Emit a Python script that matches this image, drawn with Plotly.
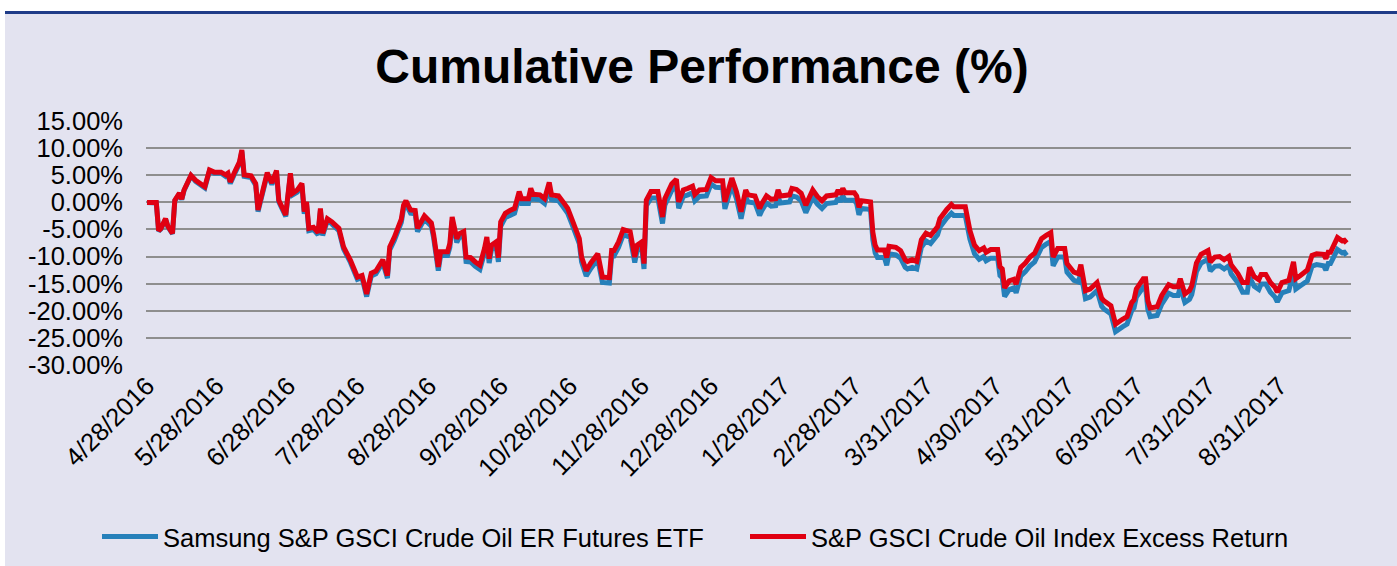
import plotly.graph_objects as go

# ---------------- data ----------------
dates = [
    "2016-04-28", "2016-05-02", "2016-05-03", "2016-05-04", "2016-05-06", "2016-05-07", "2016-05-09",
    "2016-05-10", "2016-05-12", "2016-05-13", "2016-05-14", "2016-05-17", "2016-05-19", "2016-05-23",
    "2016-05-25", "2016-05-27", "2016-05-30", "2016-06-01", "2016-06-02", "2016-06-03", "2016-06-05",
    "2016-06-07", "2016-06-08", "2016-06-09", "2016-06-12", "2016-06-14", "2016-06-15", "2016-06-17",
    "2016-06-19", "2016-06-21", "2016-06-23", "2016-06-24", "2016-06-26", "2016-06-27", "2016-06-29",
    "2016-06-30", "2016-07-02", "2016-07-04", "2016-07-05", "2016-07-06", "2016-07-07", "2016-07-09",
    "2016-07-11", "2016-07-12", "2016-07-13", "2016-07-15", "2016-07-17", "2016-07-19", "2016-07-20",
    "2016-07-22", "2016-07-25", "2016-07-28", "2016-07-30", "2016-08-01", "2016-08-03", "2016-08-05",
    "2016-08-08", "2016-08-10", "2016-08-11", "2016-08-13", "2016-08-16", "2016-08-17", "2016-08-18",
    "2016-08-20", "2016-08-22", "2016-08-23", "2016-08-26", "2016-08-29", "2016-08-30", "2016-09-01",
    "2016-09-02", "2016-09-05", "2016-09-06", "2016-09-07", "2016-09-09", "2016-09-10", "2016-09-12",
    "2016-09-13", "2016-09-15", "2016-09-17", "2016-09-19", "2016-09-21", "2016-09-22", "2016-09-23",
    "2016-09-24", "2016-09-26", "2016-09-27", "2016-09-28", "2016-09-30", "2016-10-02", "2016-10-04",
    "2016-10-06", "2016-10-07", "2016-10-10", "2016-10-11", "2016-10-12", "2016-10-15", "2016-10-17",
    "2016-10-19", "2016-10-20", "2016-10-23", "2016-10-25", "2016-10-27", "2016-10-29", "2016-11-01",
    "2016-11-02", "2016-11-04", "2016-11-06", "2016-11-09", "2016-11-11", "2016-11-14", "2016-11-15",
    "2016-11-16", "2016-11-18", "2016-11-20", "2016-11-23", "2016-11-25", "2016-11-26", "2016-11-28",
    "2016-11-29", "2016-11-30", "2016-12-02", "2016-12-05", "2016-12-07", "2016-12-08", "2016-12-11",
    "2016-12-13", "2016-12-14", "2016-12-16", "2016-12-18", "2016-12-20", "2016-12-21", "2016-12-23",
    "2016-12-26", "2016-12-28", "2016-12-30", "2017-01-02", "2017-01-03", "2017-01-06", "2017-01-08",
    "2017-01-10", "2017-01-12", "2017-01-13", "2017-01-16", "2017-01-18", "2017-01-19", "2017-01-21",
    "2017-01-23", "2017-01-25", "2017-01-26", "2017-01-27", "2017-01-31", "2017-02-01", "2017-02-03",
    "2017-02-05", "2017-02-07", "2017-02-10", "2017-02-12", "2017-02-14", "2017-02-16", "2017-02-20",
    "2017-02-21", "2017-02-22", "2017-02-23", "2017-02-24", "2017-02-28", "2017-03-01", "2017-03-02",
    "2017-03-03", "2017-03-07", "2017-03-08", "2017-03-09", "2017-03-10", "2017-03-13", "2017-03-14",
    "2017-03-15", "2017-03-18", "2017-03-20", "2017-03-22", "2017-03-23", "2017-03-25", "2017-03-27",
    "2017-03-29", "2017-03-31", "2017-04-02", "2017-04-05", "2017-04-06", "2017-04-09", "2017-04-11",
    "2017-04-12", "2017-04-17", "2017-04-19", "2017-04-20", "2017-04-21", "2017-04-23", "2017-04-25",
    "2017-04-26", "2017-04-28", "2017-05-01", "2017-05-02", "2017-05-03", "2017-05-04", "2017-05-06",
    "2017-05-08", "2017-05-09", "2017-05-11", "2017-05-13", "2017-05-15", "2017-05-17", "2017-05-19",
    "2017-05-20", "2017-05-22", "2017-05-24", "2017-05-25", "2017-05-27", "2017-05-30", "2017-05-31",
    "2017-06-03", "2017-06-05", "2017-06-06", "2017-06-08", "2017-06-10", "2017-06-13", "2017-06-15",
    "2017-06-16", "2017-06-19", "2017-06-21", "2017-06-24", "2017-06-26", "2017-06-28", "2017-06-29",
    "2017-06-30", "2017-07-03", "2017-07-04", "2017-07-05", "2017-07-06", "2017-07-09", "2017-07-11",
    "2017-07-14", "2017-07-16", "2017-07-18", "2017-07-19", "2017-07-21", "2017-07-23", "2017-07-24",
    "2017-07-26", "2017-07-28", "2017-07-31", "2017-08-01", "2017-08-03", "2017-08-05", "2017-08-07",
    "2017-08-09", "2017-08-10", "2017-08-13", "2017-08-15", "2017-08-17", "2017-08-18", "2017-08-20",
    "2017-08-22", "2017-08-23", "2017-08-25", "2017-08-27", "2017-08-29", "2017-08-30", "2017-09-01",
    "2017-09-04", "2017-09-06", "2017-09-07", "2017-09-09", "2017-09-12", "2017-09-14", "2017-09-16",
    "2017-09-19", "2017-09-20", "2017-09-21", "2017-09-22", "2017-09-25", "2017-09-27", "2017-09-28",
    "2017-09-29",
]

# S&P GSCI Crude Oil Index Excess Return (%)
index_er = [
    0.0, 0.0, -5.2, -4.8, -3.0, -4.4, -5.7,
    0.4, 1.7, 0.6, 2.3, 5.0, 4.1, 2.9,
    6.0, 5.6, 5.6, 5.1, 5.4, 3.8, 5.7,
    7.5, 9.7, 5.1, 4.9, 3.5, -1.4, 2.3,
    5.5, 3.6, 5.9, 0.4, -1.4, -2.3, 5.4,
    1.7, 2.3, 3.5, -1.7, 0.1, -4.8, -4.6,
    -5.6, -1.1, -5.7, -3.0, -3.6, -4.6, -4.8,
    -8.2, -10.7, -13.8, -13.5, -16.9, -13.1, -12.7,
    -10.6, -13.5, -8.2, -6.4, -3.1, -0.5, 0.3,
    -1.4, -1.5, -4.8, -2.5, -3.8, -6.0, -11.9,
    -9.1, -9.1, -7.6, -2.7, -6.7, -5.8, -5.4,
    -10.1, -10.2, -11.0, -11.6, -8.5, -6.4, -10.4,
    -7.9, -7.3, -10.2, -3.6, -2.0, -1.5, -1.1,
    2.0, 0.7, 0.7, 2.6, 1.5, 1.4, 0.7,
    3.7, 1.4, 1.2, 0.1, -1.1, -3.3, -6.7,
    -10.1, -12.6, -11.2, -9.5, -13.8, -13.9, -8.9,
    -8.9, -7.3, -5.0, -5.4, -10.1, -7.9, -7.3,
    -11.3, 0.4, 2.0, 2.0, -2.7, 0.7, 3.4,
    4.3, 0.1, 2.3, 2.6, 3.0, 1.5, 2.3,
    2.4, 4.6, 4.0, 4.0, 0.1, 4.5, 2.0,
    -1.7, 2.3, 1.4, 1.2, -1.1, -0.2, 1.2,
    0.6, 0.7, 2.3, 1.2, 1.4, 2.6, 2.4,
    1.7, -0.5, 2.3, 1.1, 0.3, 1.2, 1.4,
    2.3, 1.5, 2.6, 1.8, 1.8, 1.2, -0.9,
    0.3, 0.1, -5.5, -7.9, -8.8, -8.8, -10.2,
    -8.1, -8.3, -8.9, -10.6, -10.9, -10.6, -10.9,
    -6.9, -5.7, -6.1, -4.5, -3.0, -1.3, -0.4,
    -0.8, -0.8, -5.2, -6.4, -7.9, -8.9, -8.4,
    -9.2, -8.7, -8.7, -11.9, -12.3, -15.8, -14.5,
    -14.2, -15.1, -12.0, -11.2, -10.1, -9.4, -7.3,
    -6.7, -6.1, -5.6, -10.1, -8.5, -8.5, -11.3,
    -12.9, -13.2, -11.5, -16.3, -16.0, -14.8, -17.7,
    -18.2, -19.1, -22.5, -21.6, -21.1, -18.5, -18.0,
    -16.0, -14.1, -14.1, -18.2, -19.5, -19.3, -17.2,
    -15.2, -15.6, -15.6, -14.1, -16.9, -16.3, -15.4,
    -11.2, -9.6, -8.9, -11.0, -10.1, -10.0, -10.6,
    -10.0, -11.5, -13.2, -14.8, -14.8, -12.0, -13.7,
    -14.3, -13.3, -13.3, -14.8, -15.7, -16.6, -14.8,
    -14.4, -11.0, -14.1, -13.5, -12.5, -9.8, -9.5,
    -9.6, -10.4, -9.2, -9.2, -6.5, -7.1, -7.0,
    -7.5,
]

# Samsung S&P GSCI Crude Oil ER Futures ETF (%)
etf = [
    0.0, -0.1, -5.3, -4.9, -3.1, -4.5, -5.8,
    0.3, 1.6, 0.5, 2.2, 4.9, 3.9, 2.7,
    5.8, 5.4, 5.4, 4.8, 5.1, 3.5, 5.4,
    7.2, 9.4, 4.8, 4.6, 3.2, -1.7, 2.0,
    5.2, 3.3, 5.6, 0.1, -1.7, -2.6, 5.1,
    1.4, 1.9, 3.1, -2.1, -0.3, -5.2, -5.0,
    -6.0, -1.5, -6.1, -3.4, -4.0, -5.0, -5.2,
    -8.6, -11.1, -14.2, -13.9, -17.4, -13.6, -13.2,
    -11.1, -14.0, -8.8, -7.0, -3.7, -1.1, -0.3,
    -2.0, -2.1, -5.4, -3.1, -4.4, -6.6, -12.6,
    -9.8, -9.8, -8.3, -3.4, -7.4, -6.5, -6.2,
    -10.9, -11.0, -11.8, -12.4, -9.3, -7.2, -11.2,
    -8.7, -8.1, -11.0, -4.4, -2.8, -2.4, -2.0,
    1.1, -0.2, -0.2, 1.7, 0.6, 0.5, -0.2,
    2.8, 0.5, 0.3, -0.8, -2.0, -4.2, -7.6,
    -11.0, -13.6, -12.2, -10.5, -14.8, -14.9, -9.9,
    -9.9, -8.3, -6.0, -6.4, -11.1, -8.9, -8.3,
    -12.3, -0.6, 0.8, 0.8, -3.9, -0.5, 2.2,
    3.1, -1.1, 1.1, 1.4, 1.8, 0.3, 1.1,
    1.2, 3.4, 2.8, 2.7, -1.2, 3.2, 0.7,
    -3.0, 1.0, 0.1, -0.1, -2.4, -1.5, -0.1,
    -0.7, -0.6, 1.0, -0.1, 0.1, 1.2, 1.0,
    0.3, -1.9, 0.9, -0.3, -1.1, -0.2, 0.0,
    0.9, 0.1, 1.2, 0.4, 0.4, -0.2, -2.3,
    -1.1, -1.3, -6.9, -9.3, -10.2, -10.2, -11.6,
    -9.5, -9.7, -10.3, -12.0, -12.3, -12.0, -12.3,
    -8.3, -7.1, -7.6, -6.0, -4.6, -2.9, -2.0,
    -2.4, -2.4, -6.8, -8.0, -9.5, -10.5, -10.0,
    -10.8, -10.3, -10.3, -13.5, -13.9, -17.4, -16.1,
    -15.8, -16.7, -13.6, -12.8, -11.7, -11.0, -8.9,
    -8.3, -7.7, -7.2, -11.7, -10.1, -10.1, -12.9,
    -14.4, -14.7, -13.0, -17.8, -17.5, -16.3, -19.2,
    -19.7, -20.6, -23.9, -23.0, -22.5, -20.0, -19.5,
    -17.5, -15.7, -15.7, -19.8, -21.1, -20.9, -18.8,
    -16.8, -17.2, -17.2, -15.7, -18.5, -17.9, -17.0,
    -12.8, -11.2, -10.5, -12.7, -11.8, -11.7, -12.3,
    -11.7, -13.2, -14.9, -16.6, -16.6, -13.8, -15.5,
    -16.1, -15.1, -15.1, -16.6, -17.5, -18.4, -16.7,
    -16.3, -12.9, -16.0, -15.4, -14.5, -11.8, -11.5,
    -11.7, -12.5, -11.3, -11.3, -8.7, -9.3, -9.2,
    -9.8,
]

series_names = ["Samsung S&P GSCI Crude Oil ER Futures ETF",
                "S&P GSCI Crude Oil Index Excess Return"]

x_tick_dates = ["2016-04-28", "2016-05-28", "2016-06-28", "2016-07-28", "2016-08-28",
                "2016-09-28", "2016-10-28", "2016-11-28", "2016-12-28", "2017-01-28",
                "2017-02-28", "2017-03-31", "2017-04-30", "2017-05-31", "2017-06-30",
                "2017-07-31", "2017-08-31"]
x_tick_labels = ["4/28/2016", "5/28/2016", "6/28/2016", "7/28/2016", "8/28/2016",
                 "9/28/2016", "10/28/2016", "11/28/2016", "12/28/2016", "1/28/2017",
                 "2/28/2017", "3/31/2017", "4/30/2017", "5/31/2017", "6/30/2017",
                 "7/31/2017", "8/31/2017"]
y_tick_values = [15, 10, 5, 0, -5, -10, -15, -20, -25, -30]
y_tick_labels = ["15.00%", "10.00%", "5.00%", "0.00%", "-5.00%", "-10.00%",
                 "-15.00%", "-20.00%", "-25.00%", "-30.00%"]

# ---------------- styling ----------------
BG = "#E3E3F0"
BLUE = "#2680BA"
RED = "#E00012"
GRID = "#8E8E8E"
FONT = "Liberation Sans, Arial, sans-serif"
TICK_SIZE = 25.5

W, H = 1397, 566
L, R, T, B = 146, 46, 121, 201
plot_h = H - T - B
plot_w = W - L - R

fig = go.Figure()
fig.add_trace(go.Scatter(x=dates, y=etf, mode="lines", name=series_names[0],
                         line=dict(color=BLUE, width=5)))
fig.add_trace(go.Scatter(x=dates, y=index_er, mode="lines", name=series_names[1],
                         line=dict(color=RED, width=5)))

# frame decorations (white page edge + dark blue top rule)
def px_x(p):
    return (p - L) / plot_w

def px_y(p):
    return (H - B - p) / plot_h

shapes = [
    dict(type="rect", xref="paper", yref="paper", x0=px_x(-5), x1=px_x(W + 5),
         y0=px_y(11), y1=px_y(-5), fillcolor="white", line_width=0, layer="above"),
    dict(type="rect", xref="paper", yref="paper", x0=px_x(-5), x1=px_x(5),
         y0=px_y(H + 5), y1=px_y(-5), fillcolor="white", line_width=0, layer="above"),
    dict(type="line", xref="paper", yref="paper", x0=px_x(5), x1=px_x(W + 5),
         y0=px_y(12.5), y1=px_y(12.5), line=dict(color="#1F3C88", width=3), layer="above"),
]

fig.update_layout(
    width=W, height=H,
    margin=dict(l=L, r=R, t=T, b=B, pad=0, autoexpand=False),
    paper_bgcolor=BG, plot_bgcolor=BG,
    font=dict(family=FONT, color="black", size=TICK_SIZE),
    title=dict(text="Cumulative Performance (%)", x=702 / W, xref="container", xanchor="center",
               y=1 - 66 / H, yref="container", yanchor="middle",
               font=dict(family=FONT, size=48, color="black", weight="bold")),
    showlegend=True,
    legend=dict(orientation="h", xref="paper", yref="paper",
                x=px_x(97), xanchor="left", y=px_y(537), yanchor="middle",
                font=dict(family=FONT, size=TICK_SIZE, color="black"),
                bgcolor="rgba(0,0,0,0)", itemwidth=56, tracegroupgap=0,
                entrywidth=577, entrywidthmode="pixels"),
    shapes=shapes,
    hovermode=False,
)

fig.update_xaxes(type="date", range=["2016-04-27 13:00", "2017-09-30 21:00"],
                 tickmode="array", tickvals=x_tick_dates, ticktext=x_tick_labels,
                 tickangle=-45, showgrid=False, zeroline=False, showline=False,
                 ticks="", tickfont=dict(family=FONT, size=TICK_SIZE, color="black"))
fig.update_yaxes(range=[-30.05, 15.05], tickmode="array", tickvals=y_tick_values,
                 ticktext=y_tick_labels, showgrid=True, gridcolor=GRID, gridwidth=1.5,
                 zeroline=False, showline=False, ticks="", ticklabelstandoff=22,
                 tickfont=dict(family=FONT, size=TICK_SIZE, color="black"))

fig.write_html("out.html", config={"displayModeBar": False},
               post_script="document.body.style.margin='0';")
